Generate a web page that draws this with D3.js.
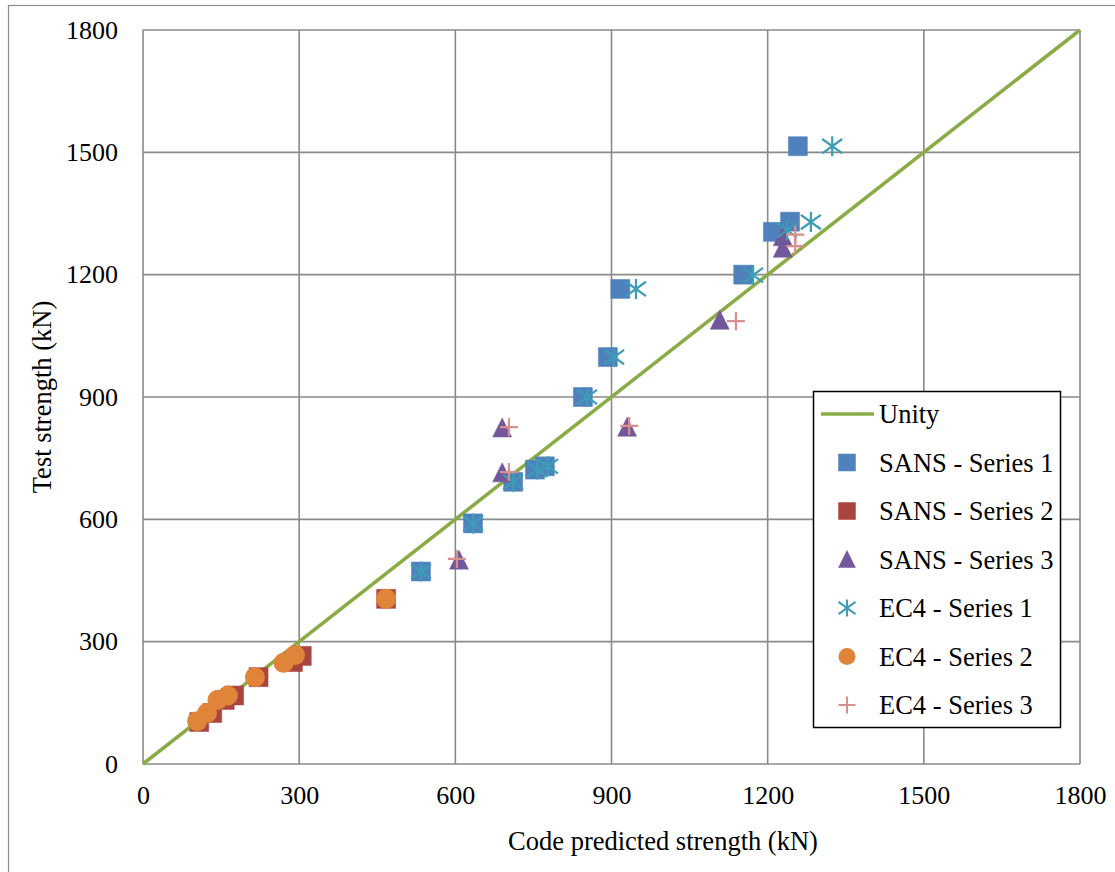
<!DOCTYPE html>
<html>
<head>
<meta charset="utf-8">
<script src="https://cdn.jsdelivr.net/npm/d3@7"></script>
<style>
  body { margin: 0; background: #fff; }
  text { font-family: "Liberation Serif", "Times New Roman", serif; fill: #000; }
</style>
</head>
<body>
<div class="chartDiv"></div>
<script>
// axis ticks
let tickValues = [0, 300, 600, 900, 1200, 1500, 1800];

// series data: [predicted, test]
let sans1 = [[1258, 1515], [1243, 1330], [1210, 1305], [1153, 1200], [917, 1165], [893, 998],
             [845, 900], [772, 730], [753, 722], [711, 692], [634, 590], [534, 472]];
let sans2 = [[467, 405], [305, 265], [288, 250], [222, 213], [175, 168], [157, 157], [133, 125], [108, 103]];
let sans3 = [[1229, 1293], [1229, 1265], [1108, 1088], [690, 824], [690, 714], [930, 826], [607, 500]];
let ec41 = [[1324, 1515], [1283, 1329], [1237, 1309], [1172, 1199], [947, 1165], [905, 998],
            [853, 900], [778, 730], [757, 722], [711, 692], [634, 590], [534, 472]];
let ec42 = [[467, 405], [292, 267], [270, 248], [215, 213], [163, 168], [143, 157], [123, 125], [104, 105]];
let ec43 = [[1253, 1298], [1253, 1270], [1139, 1086], [703, 826], [703, 716], [934, 829], [603, 503]];
let unity = [[0, 0], [1800, 1800]];

let legendNames = ["Unity", "SANS - Series 1", "SANS - Series 2", "SANS - Series 3",
                   "EC4 - Series 1", "EC4 - Series 2", "EC4 - Series 3"];

let svgWidth = 1115;
let svgHeight = 872;

let svg = d3.select('.chartDiv')
            .append('svg')
            .attr('width', svgWidth)
            .attr('height', svgHeight);

// outer frame
svg.append('rect')
   .attr('x', 8.5).attr('y', 5.5)
   .attr('width', svgWidth + 10).attr('height', svgHeight + 10)
   .attr('fill', 'none').attr('stroke', '#8c8c8c').attr('stroke-width', 1.2);

let xScale = d3.scaleLinear().domain([0, 1800]).range([143, 1080]);
let yScale = d3.scaleLinear().domain([0, 1800]).range([764, 30]);

// grid
let grid = svg.append('g');
grid.selectAll('.vg').data(tickValues).enter().append('line')
    .attr('x1', d => xScale(d)).attr('x2', d => xScale(d))
    .attr('y1', yScale(0)).attr('y2', yScale(1800))
    .attr('stroke', '#8a8a8a').attr('stroke-width', 1.6);
grid.selectAll('.hg').data(tickValues).enter().append('line')
    .attr('x1', xScale(0)).attr('x2', xScale(1800))
    .attr('y1', d => yScale(d)).attr('y2', d => yScale(d))
    .attr('stroke', '#8a8a8a').attr('stroke-width', 1.6);

// axes (labels only)
let fmt = d3.format('d');
let bottomAxis = d3.axisBottom(xScale).tickValues(tickValues).tickFormat(fmt).tickSize(0).tickPadding(22);
let leftAxis = d3.axisLeft(yScale).tickValues(tickValues).tickFormat(fmt).tickSize(0).tickPadding(25);

let gx = svg.append('g').attr('transform', `translate(0, ${yScale(0)})`).call(bottomAxis);
let gy = svg.append('g').attr('transform', `translate(${xScale(0)}, 0)`).call(leftAxis);
[gx, gy].forEach(g => {
  g.select('.domain').remove();
  g.attr('font-family', null).attr('font-size', null);
  g.selectAll('text').attr('font-size', 26).attr('fill', '#000');
});
gx.selectAll('text').attr('dy', '0.71em');

// axis titles
svg.append('text')
   .attr('x', 663).attr('y', 850)
   .attr('text-anchor', 'middle').attr('font-size', 26.5)
   .text('Code predicted strength (kN)');
svg.append('text')
   .attr('transform', 'translate(51, 397) rotate(-90)')
   .attr('text-anchor', 'middle').attr('font-size', 26.5)
   .text('Test strength (kN)');

let colors = {
  unity: '#8aac46',
  sans1: '#4f81bd',
  sans2: '#a9443f',
  sans3: '#72589a',
  ec41: '#3c9db6',
  ec42: '#e0843a',
  ec43: '#d8908e'
};

// unity line
let line = d3.line().x(d => xScale(d[0])).y(d => yScale(d[1]));
svg.append('path').datum(unity)
   .attr('d', line).attr('fill', 'none')
   .attr('stroke', colors.unity).attr('stroke-width', 3.6);

// marker shapes
let squarePath = s => `M${-s},${-s}H${s}V${s}H${-s}Z`;
let trianglePath = s => `M0,${-s * 1.05}L${s},${s * 0.95}L${-s},${s * 0.95}Z`;
let starPath = s => `M0,${-s}V${s}M${-s},${-s * 0.72}L${s},${s * 0.72}M${-s},${s * 0.72}L${s},${-s * 0.72}`;
let plusPath = s => `M0,${-s}V${s}M${-s},0H${s}`;

let drawMarkers = (data, kind, color, size) => {
  let g = svg.append('g');
  let sel = g.selectAll('.m').data(data).enter();
  if (kind === 'circle') {
    sel.append('circle')
       .attr('cx', d => xScale(d[0])).attr('cy', d => yScale(d[1]))
       .attr('r', size).attr('fill', color);
  } else {
    let pathFn = { square: squarePath, triangle: trianglePath, star: starPath, plus: plusPath }[kind];
    let filled = kind === 'square' || kind === 'triangle';
    sel.append('path')
       .attr('transform', d => `translate(${xScale(d[0])}, ${yScale(d[1])})`)
       .attr('d', pathFn(size))
       .attr('fill', filled ? color : 'none')
       .attr('stroke', color)
       .attr('stroke-width', filled ? 0.5 : 2.2);
  }
};

drawMarkers(sans1, 'square', colors.sans1, 9.5);
drawMarkers(sans2, 'square', colors.sans2, 9.5);
drawMarkers(sans3, 'triangle', colors.sans3, 9.5);
drawMarkers(ec41, 'star', colors.ec41, 10);
drawMarkers(ec42, 'circle', colors.ec42, 10);
drawMarkers(ec43, 'plus', colors.ec43, 9);

// legend
let legend = svg.append('g');
legend.append('rect')
      .attr('x', 813.5).attr('y', 391.5).attr('width', 247).attr('height', 336)
      .attr('fill', '#fff').attr('stroke', '#000').attr('stroke-width', 1.5);

let legendKinds = ['line', 'square', 'square', 'triangle', 'star', 'circle', 'plus'];
let legendColors = [colors.unity, colors.sans1, colors.sans2, colors.sans3, colors.ec41, colors.ec42, colors.ec43];
let legendY = d3.scalePoint().domain(legendNames).range([414, 705]);

legendNames.forEach((name, i) => {
  let y = legendY(name);
  let kind = legendKinds[i];
  let c = legendColors[i];
  if (kind === 'line') {
    legend.append('line').attr('x1', 821).attr('x2', 874).attr('y1', y).attr('y2', y)
          .attr('stroke', c).attr('stroke-width', 3.6);
  } else if (kind === 'circle') {
    legend.append('circle').attr('cx', 847).attr('cy', y).attr('r', 8.5).attr('fill', c);
  } else {
    let pathFn = { square: squarePath, triangle: trianglePath, star: starPath, plus: plusPath }[kind];
    let filled = kind === 'square' || kind === 'triangle';
    legend.append('path').attr('transform', `translate(847, ${y})`)
          .attr('d', pathFn(8.5))
          .attr('fill', filled ? c : 'none').attr('stroke', c)
          .attr('stroke-width', filled ? 0.5 : 2);
  }
  legend.append('text').attr('x', 879).attr('y', y).attr('dy', '0.35em')
        .attr('font-size', 26.5).text(name);
});
</script>
</body>
</html>
